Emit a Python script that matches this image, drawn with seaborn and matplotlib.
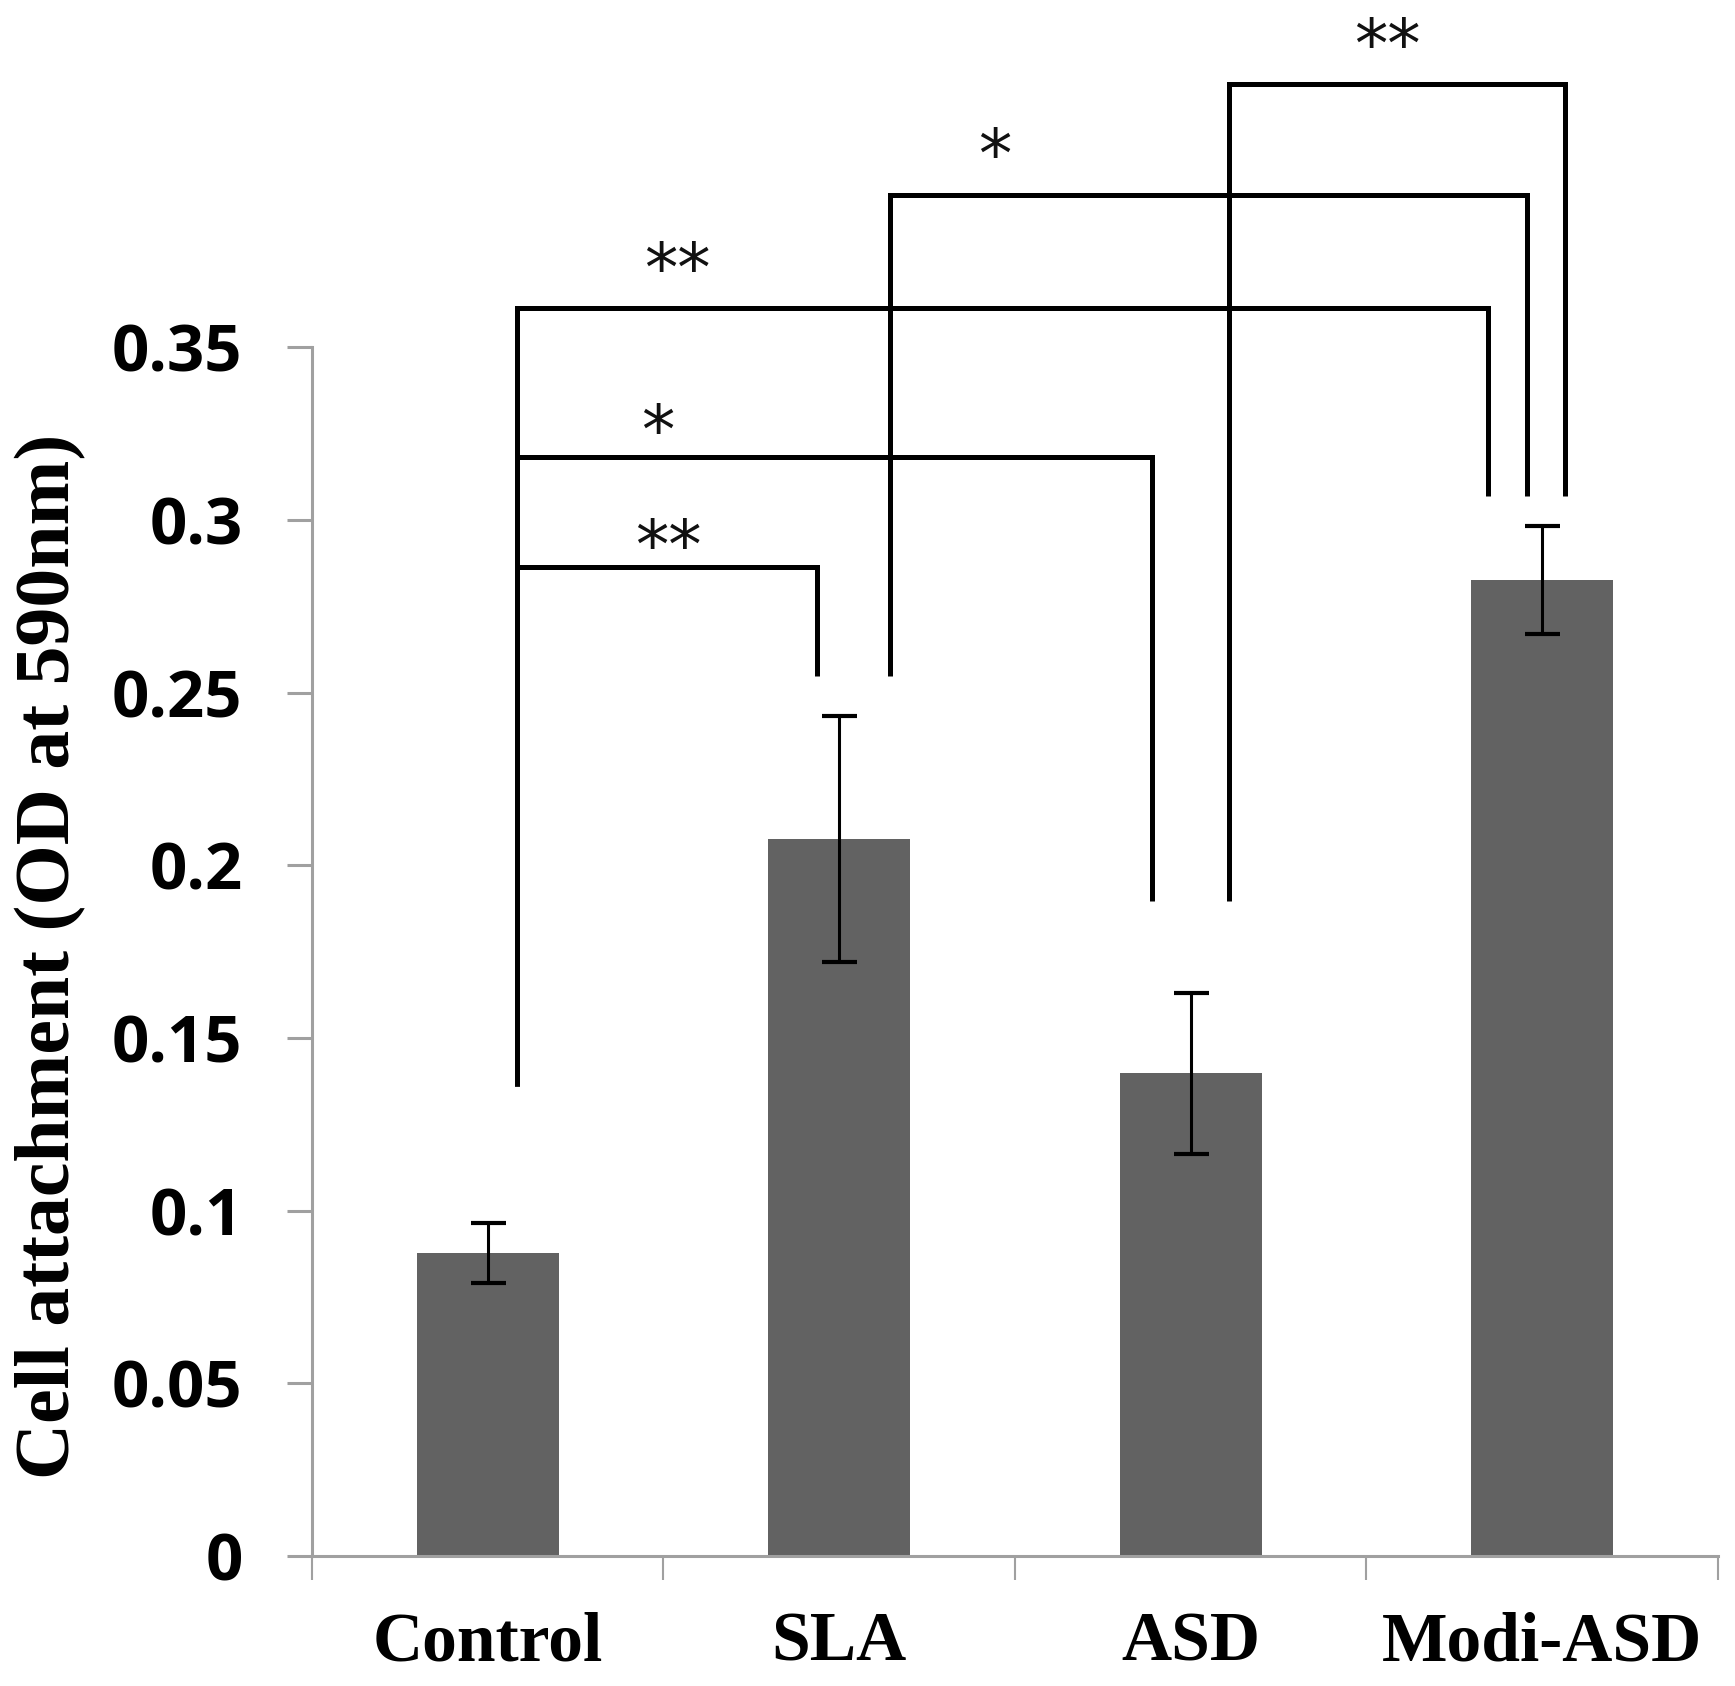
import matplotlib
matplotlib.use("Agg")
import matplotlib.pyplot as plt
import seaborn as sns
import pandas as pd
from matplotlib.ticker import FixedLocator

# ---- data ----
groups = ["Control", "SLA", "ASD", "Modi-ASD"]
od_means = [0.0877, 0.2076, 0.1397, 0.2825]
od_errors = [0.0087, 0.0357, 0.0234, 0.0157]
y_tick_values = [0, 0.05, 0.1, 0.15, 0.2, 0.25, 0.3, 0.35]
y_tick_labels = ["0", "0.05", "0.1", "0.15", "0.2", "0.25", "0.3", "0.35"]

# significance brackets: (left x, left bottom, top, right x, right bottom, label, label x, label y)
sig_left_x = [0.083, 0.083, 0.083, 1.144, 2.109]
sig_left_bottom = [0.1361, 0.1361, 0.1361, 0.2548, 0.1896]
sig_top = [0.2863, 0.3182, 0.3613, 0.3940, 0.4262]
sig_right_x = [0.937, 1.890, 2.846, 2.957, 3.065]
sig_right_bottom = [0.2548, 0.1896, 0.3069, 0.3069, 0.3069]
sig_labels = ["**", "*", "**", "*", "**"]
sig_label_x = [0.513, 0.484, 0.538, 1.443, 2.558]
sig_label_y = [0.297, 0.3303, 0.377, 0.410, 0.4421]

df = pd.DataFrame({"group": groups, "od": od_means})

sns.set_style("white")
plt.rcParams["font.family"] = ["DejaVu Sans"]
plt.rcParams["text.color"] = "black"
plt.rcParams["xtick.labelcolor"] = "black"
plt.rcParams["ytick.labelcolor"] = "black"
plt.rcParams["axes.labelcolor"] = "black"

fig = plt.figure(figsize=(17.35, 16.86), dpi=100)
ax = fig.add_axes([0.1798, 0.0771, 0.8104, 0.9229])

sns.barplot(data=df, x="group", y="od", order=groups, color="#626262",
            saturation=1, width=0.404, errorbar=None, ax=ax, edgecolor="none")
ax.errorbar(range(len(groups)), od_means, yerr=od_errors, fmt="none",
            ecolor="black", elinewidth=2.2, capsize=12.6, capthick=3)

ax.set_xlim(-0.5, 3.5)
ax.set_ylim(0, 0.4505)

# spines
for s in ["top", "right"]:
    ax.spines[s].set_visible(False)
for s in ["left", "bottom"]:
    ax.spines[s].set_color("#a0a0a0")
    ax.spines[s].set_linewidth(2.2)
ax.spines["left"].set_bounds(0, 0.35)

# y ticks
ax.set_yticks(y_tick_values)
ax.set_yticklabels(y_tick_labels, fontfamily="Open Sans", fontweight="bold",
                   fontsize=47, color="black")
ax.tick_params(axis="y", which="major", length=18, width=2.2, color="#a0a0a0",
               direction="out", pad=32, left=True, labelcolor="black")

# x ticks: labels at centers, tick marks at category boundaries
ax.set_xticks(range(len(groups)))
ax.set_xticklabels(groups, fontfamily="Liberation Serif", fontweight="bold",
                   fontsize=50, color="black")
ax.xaxis.set_minor_locator(FixedLocator([-0.5, 0.5, 1.5, 2.5, 3.5]))
ax.tick_params(axis="x", which="major", length=0, pad=40, labelcolor="black")
ax.tick_params(axis="x", which="minor", length=17, width=1.5, color="#a0a0a0",
               direction="out", bottom=True)
ax.set_xlabel("")

ax.set_ylabel("Cell attachment (OD at 590nm)", fontfamily="Liberation Serif",
              fontweight="bold", fontsize=56, color="black")
ax.yaxis.set_label_coords(-0.186, 0.3856)
ax.yaxis.label.set_va("center")

# significance brackets
for x1, y1, yt, x2, y2, lab, lx, ly in zip(sig_left_x, sig_left_bottom, sig_top,
                                           sig_right_x, sig_right_bottom,
                                           sig_labels, sig_label_x, sig_label_y):
    ax.plot([x1, x1, x2, x2], [y1, yt, yt, y2], color="black", lw=3.6,
            solid_joinstyle="miter", solid_capstyle="butt", clip_on=False)
    ax.annotate(lab, xy=(lx, ly), xytext=(0, -27), textcoords="offset points",
                ha="center", va="baseline", fontsize=48, fontfamily="DejaVu Sans",
                color="#111111", annotation_clip=False)

fig.savefig("out.png", dpi=100, facecolor="white")
